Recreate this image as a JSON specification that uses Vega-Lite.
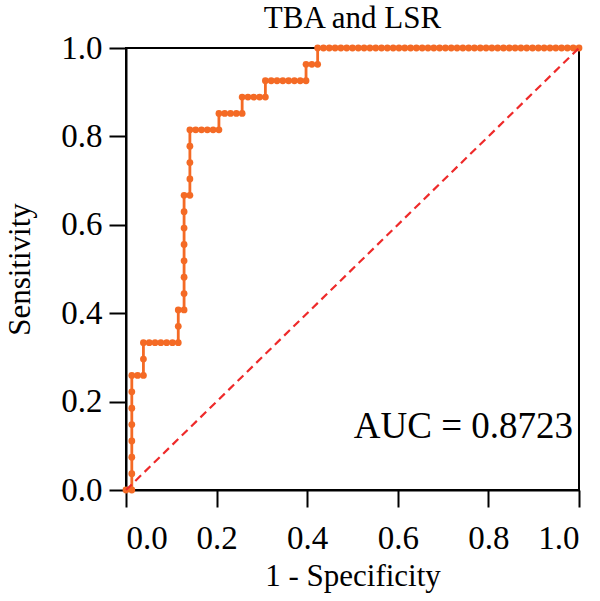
{
  "$schema": "https://vega.github.io/schema/vega-lite/v6.json",
  "autosize": {"type": "none"},
  "width": 453,
  "height": 442,
  "padding": {"left": 126, "top": 48, "right": 21, "bottom": 111},
  "background": "white",
  "title": {
    "text": "TBA and LSR",
    "font": "Liberation Serif",
    "fontSize": 31,
    "fontWeight": "normal",
    "color": "black",
    "anchor": "middle",
    "frame": "group",
    "offset": -3
  },
  "config": {
    "view": {"stroke": "black", "strokeWidth": 2},
    "axis": {
      "grid": false,
      "domainColor": "black",
      "domainWidth": 2,
      "tickColor": "black",
      "tickWidth": 2,
      "tickSize": 17,
      "labelFont": "Liberation Serif",
      "labelFontSize": 33,
      "labelColor": "black",
      "titleFont": "Liberation Serif",
      "titleFontSize": 31,
      "titleFontWeight": "normal",
      "titleColor": "black"
    }
  },
  "datasets": {
    "roc": [
      {"i": 1, "fpr": 0, "tpr": 0},
      {"i": 2, "fpr": 0.01282, "tpr": 0},
      {"i": 3, "fpr": 0.01282, "tpr": 0.03704},
      {"i": 4, "fpr": 0.01282, "tpr": 0.07407},
      {"i": 5, "fpr": 0.01282, "tpr": 0.11111},
      {"i": 6, "fpr": 0.01282, "tpr": 0.14815},
      {"i": 7, "fpr": 0.01282, "tpr": 0.18519},
      {"i": 8, "fpr": 0.01282, "tpr": 0.22222},
      {"i": 9, "fpr": 0.01282, "tpr": 0.25926},
      {"i": 10, "fpr": 0.02564, "tpr": 0.25926},
      {"i": 11, "fpr": 0.03846, "tpr": 0.25926},
      {"i": 12, "fpr": 0.03846, "tpr": 0.2963},
      {"i": 13, "fpr": 0.03846, "tpr": 0.33333},
      {"i": 14, "fpr": 0.05128, "tpr": 0.33333},
      {"i": 15, "fpr": 0.0641, "tpr": 0.33333},
      {"i": 16, "fpr": 0.07692, "tpr": 0.33333},
      {"i": 17, "fpr": 0.08974, "tpr": 0.33333},
      {"i": 18, "fpr": 0.10256, "tpr": 0.33333},
      {"i": 19, "fpr": 0.11538, "tpr": 0.33333},
      {"i": 20, "fpr": 0.11538, "tpr": 0.37037},
      {"i": 21, "fpr": 0.11538, "tpr": 0.40741},
      {"i": 22, "fpr": 0.12821, "tpr": 0.40741},
      {"i": 23, "fpr": 0.12821, "tpr": 0.44444},
      {"i": 24, "fpr": 0.12821, "tpr": 0.48148},
      {"i": 25, "fpr": 0.12821, "tpr": 0.51852},
      {"i": 26, "fpr": 0.12821, "tpr": 0.55556},
      {"i": 27, "fpr": 0.12821, "tpr": 0.59259},
      {"i": 28, "fpr": 0.12821, "tpr": 0.62963},
      {"i": 29, "fpr": 0.12821, "tpr": 0.66667},
      {"i": 30, "fpr": 0.14103, "tpr": 0.66667},
      {"i": 31, "fpr": 0.14103, "tpr": 0.7037},
      {"i": 32, "fpr": 0.14103, "tpr": 0.74074},
      {"i": 33, "fpr": 0.14103, "tpr": 0.77778},
      {"i": 34, "fpr": 0.14103, "tpr": 0.81481},
      {"i": 35, "fpr": 0.15385, "tpr": 0.81481},
      {"i": 36, "fpr": 0.16667, "tpr": 0.81481},
      {"i": 37, "fpr": 0.17949, "tpr": 0.81481},
      {"i": 38, "fpr": 0.19231, "tpr": 0.81481},
      {"i": 39, "fpr": 0.20513, "tpr": 0.81481},
      {"i": 40, "fpr": 0.20513, "tpr": 0.85185},
      {"i": 41, "fpr": 0.21795, "tpr": 0.85185},
      {"i": 42, "fpr": 0.23077, "tpr": 0.85185},
      {"i": 43, "fpr": 0.24359, "tpr": 0.85185},
      {"i": 44, "fpr": 0.25641, "tpr": 0.85185},
      {"i": 45, "fpr": 0.25641, "tpr": 0.88889},
      {"i": 46, "fpr": 0.26923, "tpr": 0.88889},
      {"i": 47, "fpr": 0.28205, "tpr": 0.88889},
      {"i": 48, "fpr": 0.29487, "tpr": 0.88889},
      {"i": 49, "fpr": 0.30769, "tpr": 0.88889},
      {"i": 50, "fpr": 0.30769, "tpr": 0.92593},
      {"i": 51, "fpr": 0.32051, "tpr": 0.92593},
      {"i": 52, "fpr": 0.33333, "tpr": 0.92593},
      {"i": 53, "fpr": 0.34615, "tpr": 0.92593},
      {"i": 54, "fpr": 0.35897, "tpr": 0.92593},
      {"i": 55, "fpr": 0.37179, "tpr": 0.92593},
      {"i": 56, "fpr": 0.38462, "tpr": 0.92593},
      {"i": 57, "fpr": 0.39744, "tpr": 0.92593},
      {"i": 58, "fpr": 0.39744, "tpr": 0.96296},
      {"i": 59, "fpr": 0.41026, "tpr": 0.96296},
      {"i": 60, "fpr": 0.42308, "tpr": 0.96296},
      {"i": 61, "fpr": 0.42308, "tpr": 1},
      {"i": 62, "fpr": 0.4359, "tpr": 1},
      {"i": 63, "fpr": 0.44872, "tpr": 1},
      {"i": 64, "fpr": 0.46154, "tpr": 1},
      {"i": 65, "fpr": 0.47436, "tpr": 1},
      {"i": 66, "fpr": 0.48718, "tpr": 1},
      {"i": 67, "fpr": 0.5, "tpr": 1},
      {"i": 68, "fpr": 0.51282, "tpr": 1},
      {"i": 69, "fpr": 0.52564, "tpr": 1},
      {"i": 70, "fpr": 0.53846, "tpr": 1},
      {"i": 71, "fpr": 0.55128, "tpr": 1},
      {"i": 72, "fpr": 0.5641, "tpr": 1},
      {"i": 73, "fpr": 0.57692, "tpr": 1},
      {"i": 74, "fpr": 0.58974, "tpr": 1},
      {"i": 75, "fpr": 0.60256, "tpr": 1},
      {"i": 76, "fpr": 0.61538, "tpr": 1},
      {"i": 77, "fpr": 0.62821, "tpr": 1},
      {"i": 78, "fpr": 0.64103, "tpr": 1},
      {"i": 79, "fpr": 0.65385, "tpr": 1},
      {"i": 80, "fpr": 0.66667, "tpr": 1},
      {"i": 81, "fpr": 0.67949, "tpr": 1},
      {"i": 82, "fpr": 0.69231, "tpr": 1},
      {"i": 83, "fpr": 0.70513, "tpr": 1},
      {"i": 84, "fpr": 0.71795, "tpr": 1},
      {"i": 85, "fpr": 0.73077, "tpr": 1},
      {"i": 86, "fpr": 0.74359, "tpr": 1},
      {"i": 87, "fpr": 0.75641, "tpr": 1},
      {"i": 88, "fpr": 0.76923, "tpr": 1},
      {"i": 89, "fpr": 0.78205, "tpr": 1},
      {"i": 90, "fpr": 0.79487, "tpr": 1},
      {"i": 91, "fpr": 0.80769, "tpr": 1},
      {"i": 92, "fpr": 0.82051, "tpr": 1},
      {"i": 93, "fpr": 0.83333, "tpr": 1},
      {"i": 94, "fpr": 0.84615, "tpr": 1},
      {"i": 95, "fpr": 0.85897, "tpr": 1},
      {"i": 96, "fpr": 0.87179, "tpr": 1},
      {"i": 97, "fpr": 0.88462, "tpr": 1},
      {"i": 98, "fpr": 0.89744, "tpr": 1},
      {"i": 99, "fpr": 0.91026, "tpr": 1},
      {"i": 100, "fpr": 0.92308, "tpr": 1},
      {"i": 101, "fpr": 0.9359, "tpr": 1},
      {"i": 102, "fpr": 0.94872, "tpr": 1},
      {"i": 103, "fpr": 0.96154, "tpr": 1},
      {"i": 104, "fpr": 0.97436, "tpr": 1},
      {"i": 105, "fpr": 0.98718, "tpr": 1},
      {"i": 106, "fpr": 1, "tpr": 1}
    ],
    "chance": [
      {"fpr": 0, "tpr": 0},
      {"fpr": 1, "tpr": 1}
    ],
    "auc": [
      {"label": "AUC = 0.8723", "fpr": 0.745, "tpr": 0.143}
    ]
  },
  "layer": [
    {
      "data": {"name": "roc"},
      "mark": {"type": "line", "color": "#f46a25", "strokeWidth": 2.8},
      "encoding": {
        "x": {
          "field": "fpr",
          "type": "quantitative",
          "scale": {"domain": [0, 1], "nice": false, "zero": false},
          "axis": {
            "title": "1 - Specificity",
            "values": [0, 0.2, 0.4, 0.6, 0.8, 1],
            "format": ".1f",
            "labelPadding": 15,
            "titlePadding": 6
          }
        },
        "y": {
          "field": "tpr",
          "type": "quantitative",
          "scale": {"domain": [0, 1], "nice": false, "zero": false},
          "axis": {
            "title": "Sensitivity",
            "values": [0, 0.2, 0.4, 0.6, 0.8, 1],
            "format": ".1f",
            "labelPadding": 7,
            "titlePadding": 24
          }
        },
        "order": {"field": "i", "type": "quantitative"}
      }
    },
    {
      "data": {"name": "roc"},
      "mark": {"type": "point", "filled": true, "opacity": 1, "color": "#f46a25", "size": 46},
      "encoding": {
        "x": {"field": "fpr", "type": "quantitative"},
        "y": {"field": "tpr", "type": "quantitative"}
      }
    },
    {
      "data": {"name": "chance"},
      "mark": {"type": "line", "color": "#ee2a2a", "strokeWidth": 2.2, "strokeDash": [8, 5]},
      "encoding": {
        "x": {"field": "fpr", "type": "quantitative"},
        "y": {"field": "tpr", "type": "quantitative"}
      }
    },
    {
      "data": {"name": "auc"},
      "mark": {"type": "text", "font": "Liberation Serif", "fontSize": 37, "color": "black", "align": "center", "baseline": "middle"},
      "encoding": {
        "x": {"field": "fpr", "type": "quantitative"},
        "y": {"field": "tpr", "type": "quantitative"},
        "text": {"field": "label", "type": "nominal"}
      }
    }
  ]
}
